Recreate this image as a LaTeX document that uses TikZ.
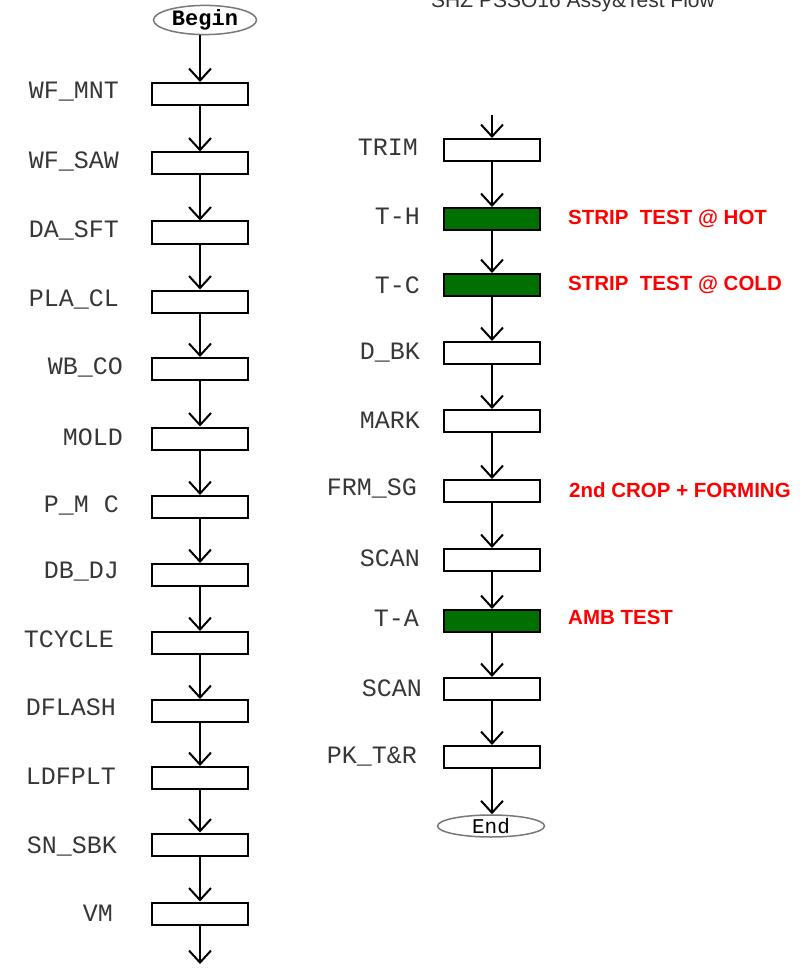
\documentclass[tikz,border=0pt]{standalone}
\usepackage{fontspec}
\setmainfont{Liberation Sans}
\newfontfamily\monof{Liberation Mono}
\usetikzlibrary{arrows.meta,shapes.geometric}
\definecolor{boxgreen}{RGB}{0,112,0}
\definecolor{lblgray}{RGB}{55,55,55}
\definecolor{ellgray}{RGB}{120,120,120}
\begin{document}
\begin{tikzpicture}[x=1pt,y=-1pt,
  stepbox/.style={draw=black,line width=2pt,fill=white,minimum width=96pt,minimum height=22pt,inner sep=0pt},
  testbox/.style={stepbox,fill=boxgreen},
  lbl/.style={anchor=east,text=lblgray,font=\monof\fontsize{25}{28}\selectfont,inner sep=0pt},
  note/.style={anchor=west,text=red,font=\bfseries\fontsize{20.5}{23}\selectfont,inner sep=0pt},
  term/.style={draw=ellgray,line width=1.5pt,ellipse,inner sep=0pt,fill=white},
  flow/.style={line width=2pt,-{Straight Barb[length=12pt,width=22pt,line width=2pt]}}
]
\useasboundingbox (0,0) rectangle (811,968);
\fill[white] (0,0) rectangle (811,968);

% title (cut at top, as in the reference)
\node[anchor=base,text=black!80,font=\fontsize{21}{24}\selectfont,inner sep=0pt] (title) at (573,8) {SHZ PSSO16 Assy\&Test Flow};

% left column
\node[term,minimum width=103pt,minimum height=27pt,font=\monof\bfseries\fontsize{22}{24}\selectfont] (begin) at (205,20) {Begin};
\node[stepbox] (l1) at (200,94) {};
\node[stepbox] (l2) at (200,163.5) {};
\node[stepbox] (l3) at (200,232.5) {};
\node[stepbox] (l4) at (200,301.5) {};
\node[stepbox] (l5) at (200,369) {};
\node[stepbox] (l6) at (200,438.5) {};
\node[stepbox] (l7) at (200,507) {};
\node[stepbox] (l8) at (200,575) {};
\node[stepbox] (l9) at (200,643) {};
\node[stepbox] (l10) at (200,711) {};
\node[stepbox] (l11) at (200,778) {};
\node[stepbox] (l12) at (200,844.5) {};
\node[stepbox] (l13) at (200,913.5) {};
\coordinate (lend) at (200,964);

\node[lbl] (t1) at (119,92) {WF\_MNT};
\node[lbl] (t2) at (119,161) {WF\_SAW};
\node[lbl] (t3) at (119,230) {DA\_SFT};
\node[lbl] (t4) at (119,299) {PLA\_CL};
\node[lbl] (t5) at (123,367) {WB\_CO};
\node[lbl] (t6) at (123,437) {MOLD};
\node[lbl] (t7) at (119,505) {P\_M C};
\node[lbl] (t8) at (119,572) {DB\_DJ};
\node[lbl] (t9) at (114,639) {TCYCLE};
\node[lbl] (t10) at (116,707) {DFLASH};
\node[lbl] (t11) at (116,776) {LDFPLT};
\node[lbl] (t12) at (117,846) {SN\_SBK};
\node[lbl] (t13) at (113,913) {VM};

\draw[flow] (begin.south -| l1) -- (l1);
\foreach \a/\b in {l1/l2,l2/l3,l3/l4,l4/l5,l5/l6,l6/l7,l7/l8,l8/l9,l9/l10,l10/l11,l11/l12,l12/l13}
  \draw[flow] (\a) -- (\b);
\draw[flow] (l13) -- (lend);

% right column
\coordinate (rstart) at (492,115);
\node[stepbox] (r1) at (492,150) {};
\node[testbox] (r2) at (492,219) {};
\node[testbox] (r3) at (492,285) {};
\node[stepbox] (r4) at (492,353) {};
\node[stepbox] (r5) at (492,421) {};
\node[stepbox] (r6) at (492,491) {};
\node[stepbox] (r7) at (492,560) {};
\node[testbox] (r8) at (492,621) {};
\node[stepbox] (r9) at (492,689) {};
\node[stepbox] (r10) at (492,757) {};
\node[term,minimum width=107pt,minimum height=22pt,font=\monof\fontsize{21}{24}\selectfont] (end) at (491,826) {End};

\node[lbl] (s1) at (418,147) {TRIM};
\node[lbl] (s2) at (420,216) {T-H};
\node[lbl] (s3) at (420,285) {T-C};
\node[lbl] (s4) at (420,353) {D\_BK};
\node[lbl] (s5) at (420,420) {MARK};
\node[lbl] (s6) at (417,488) {FRM\_SG};
\node[lbl] (s7) at (420,558) {SCAN};
\node[lbl] (s8) at (419,618) {T-A};
\node[lbl] (s9) at (422,688) {SCAN};
\node[lbl] (s10) at (417,757) {PK\_T\&R};

\node[note] (n2) at (568,219) {STRIP\ \ TEST @ HOT};
\node[note] (n3) at (568,285) {STRIP\ \ TEST @ COLD};
\node[note] (n6) at (569,490) {2nd CROP + FORMING};
\node[note] (n8) at (568,617) {AMB TEST};

\draw[flow] (rstart) -- (r1);
\foreach \a/\b in {r1/r2,r2/r3,r3/r4,r4/r5,r5/r6,r6/r7,r7/r8,r8/r9,r9/r10}
  \draw[flow] (\a) -- (\b);
\draw[flow] (r10) -- (r10 |- end.north);
\end{tikzpicture}
\end{document}
